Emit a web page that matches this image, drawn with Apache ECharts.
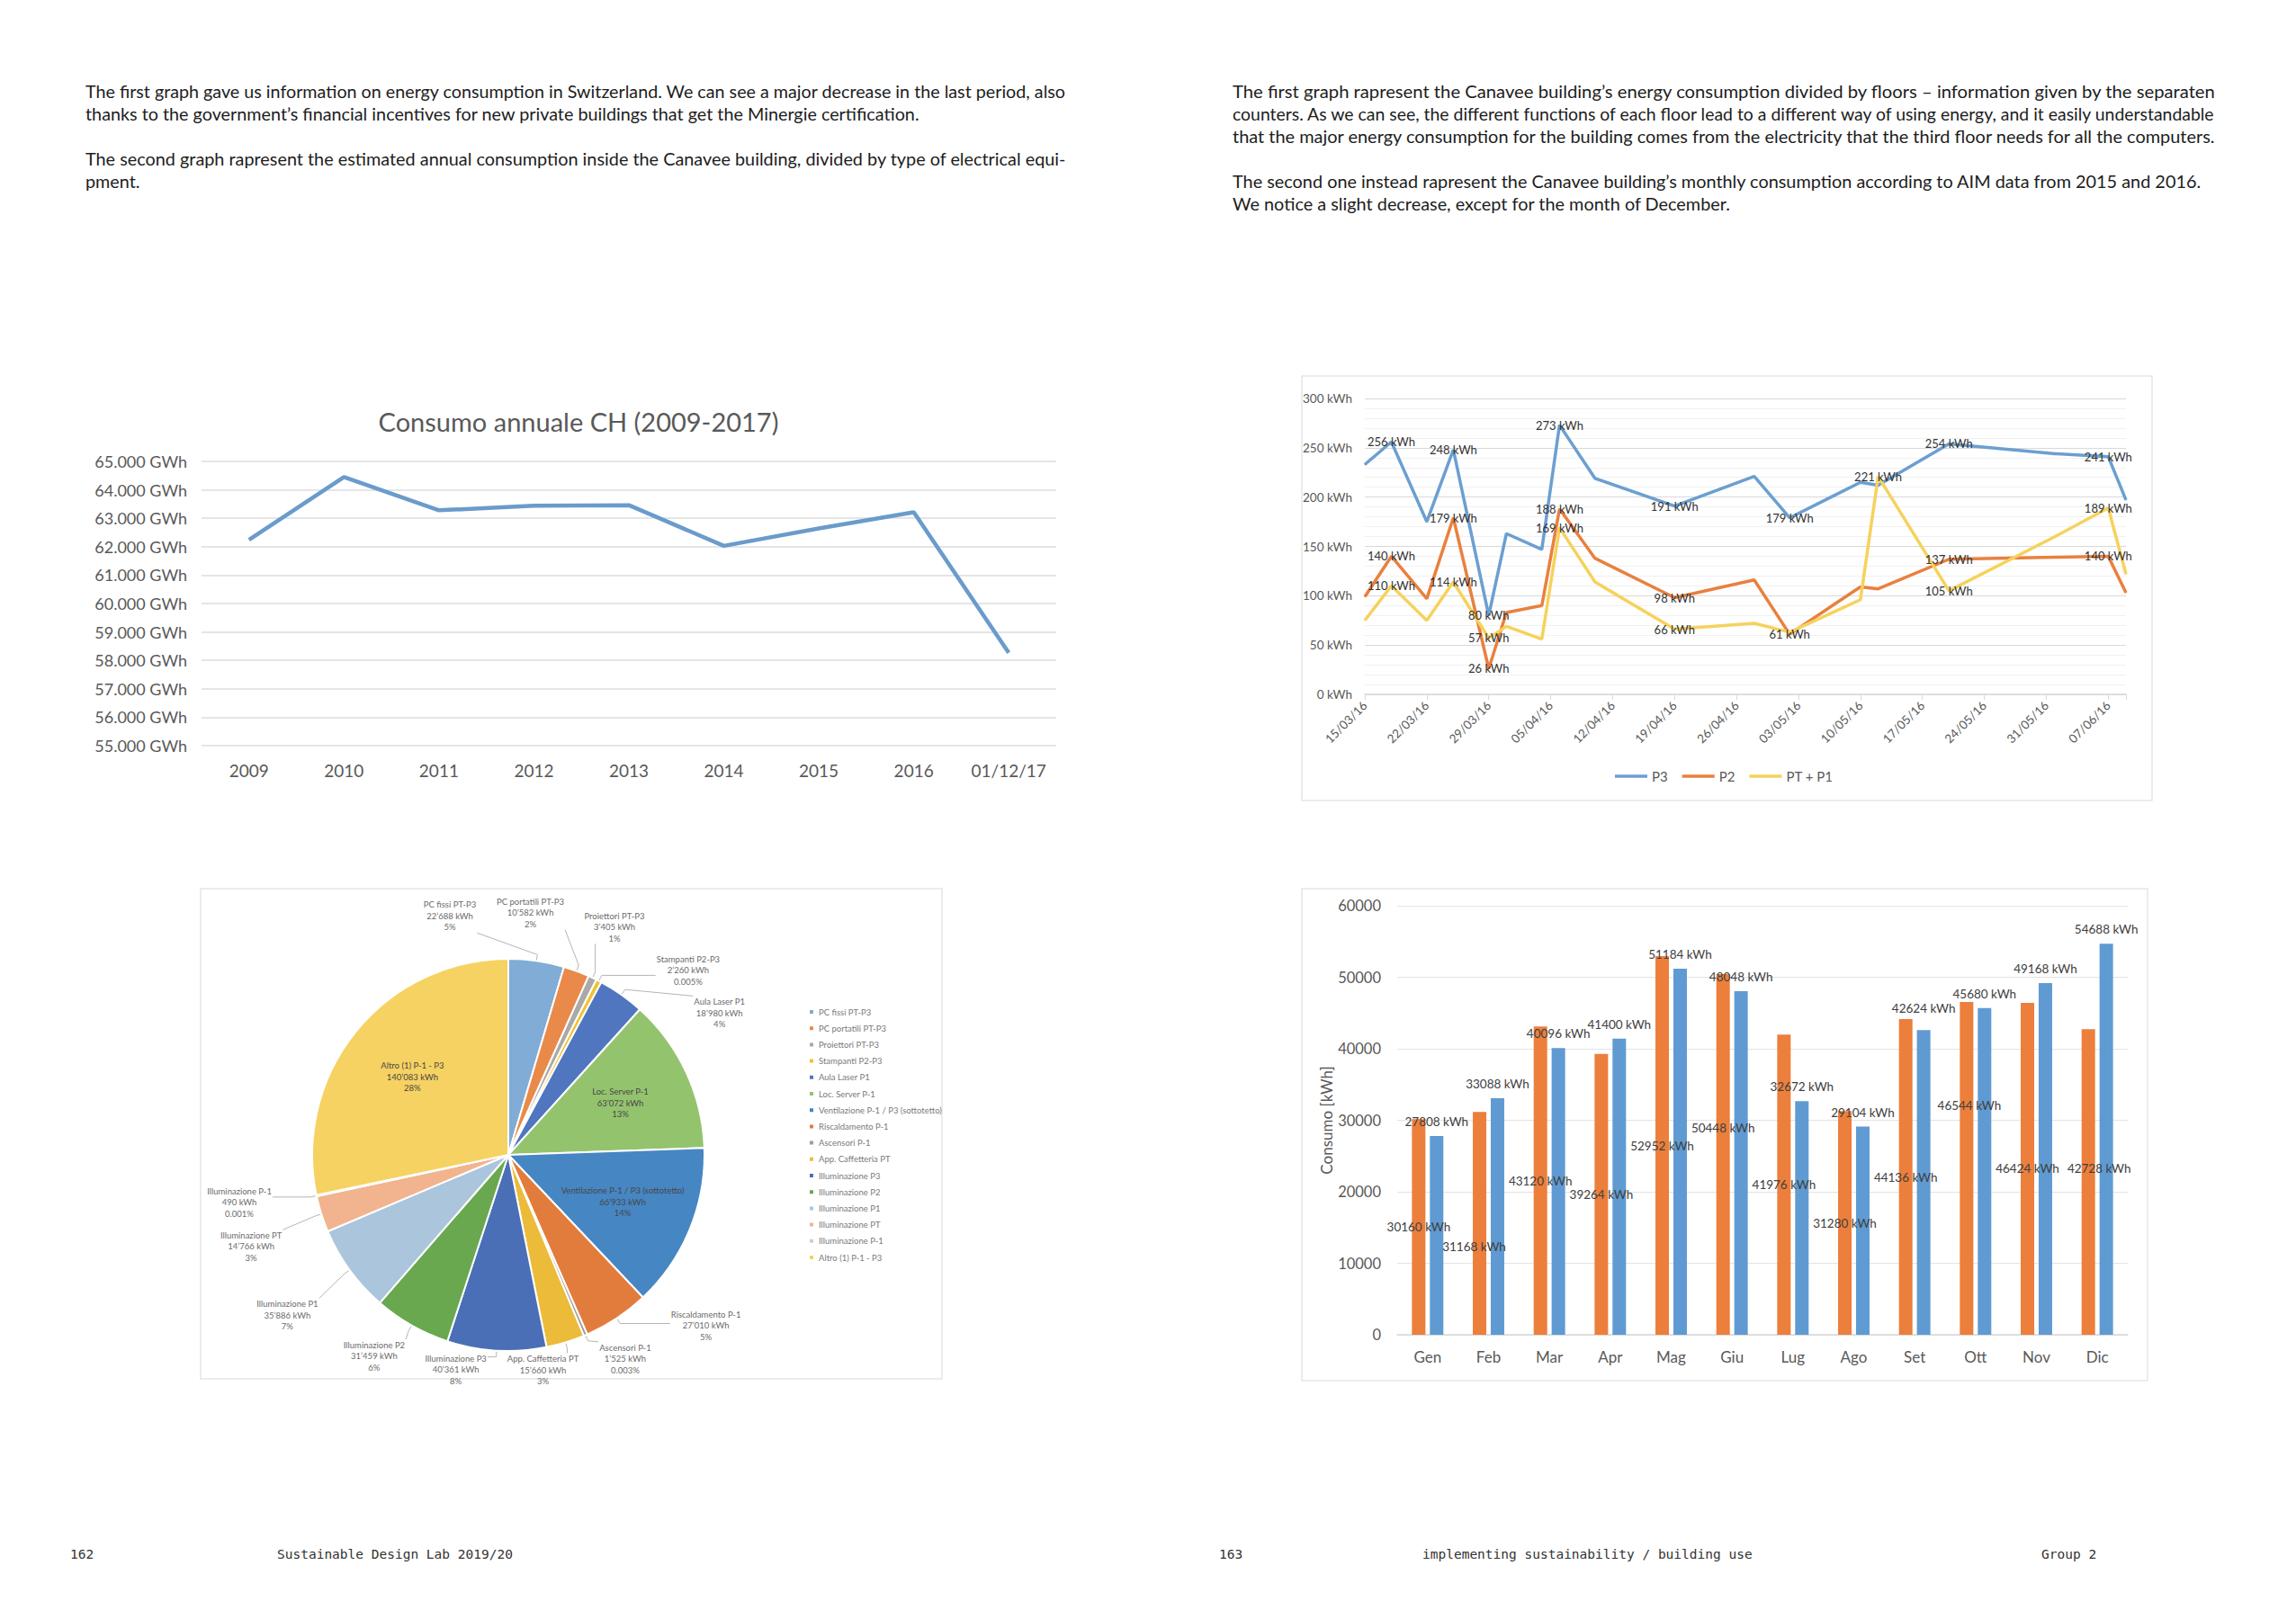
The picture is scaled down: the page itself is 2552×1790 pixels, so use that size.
<!DOCTYPE html>
<html><head><meta charset="utf-8">
<script src="https://cdn.jsdelivr.net/npm/echarts@6/dist/echarts.min.js"></script>
<style>html,body{margin:0;padding:0;background:#fff;}#c{width:2552px;height:1790px;}</style>
</head><body><div id="c"></div>
<script>
// ---------------- DATA ----------------
const chYears = ['2009','2010','2011','2012','2013','2014','2015','2016','01/12/17'];
const chGWh = [62240, 64450, 63280, 63440, 63460, 62030, 62640, 63210, 58270];

const floorDates = ['2016-03-15','2016-03-18','2016-03-22','2016-03-25','2016-03-29','2016-03-31','2016-04-04','2016-04-06','2016-04-10','2016-04-19','2016-04-28','2016-05-02','2016-05-10','2016-05-12','2016-05-20','2016-06-01','2016-06-07','2016-06-09'];
const p3Vals = [233, 256, 175, 248, 80, 163, 147, 273, 219, 191, 221, 179, 215, 212, 254, 244, 241, 197];
const p2Vals = [99, 140, 97, 179, 26, 83, 90, 188, 138, 98, 116, 61, 109, 107, 137, 139, 140, 103];
const p1Vals = [75, 110, 75, 114, 57, 69, 56, 169, 114, 66, 72, 63, 96, 221, 105, 160, 189, 122];
const p3Labeled = [1, 3, 4, 7, 9, 11, 14, 16];
const p2Labeled = [1, 3, 4, 7, 9, 11, 14, 16];
const p1Labeled = [1, 3, 4, 7, 9, 13, 14, 16];

const months = ['Gen','Feb','Mar','Apr','Mag','Giu','Lug','Ago','Set','Ott','Nov','Dic'];
const kwh2015 = [30160, 31168, 43120, 39264, 52952, 50448, 41976, 31280, 44136, 46544, 46424, 42728];
const kwh2016 = [27808, 33088, 40096, 41400, 51184, 48048, 32672, 29104, 42624, 45680, 49168, 54688];

const pieNames = ['PC fissi PT-P3','PC portatili PT-P3','Proiettori PT-P3','Stampanti P2-P3','Aula Laser P1','Loc. Server P-1','Ventilazione P-1 / P3 (sottotetto)','Riscaldamento P-1','Ascensori P-1','App. Caffetteria PT','Illuminazione P3','Illuminazione P2','Illuminazione P1','Illuminazione PT','Illuminazione P-1','Altro (1) P-1 - P3'];
const pieKWh = [22688, 10582, 3405, 2260, 18980, 63072, 66933, 27010, 1525, 15660, 40361, 31459, 35886, 14766, 490, 140083];
const piePct = ['5%','2%','1%','0.005%','4%','13%','14%','5%','0.003%','3%','8%','6%','7%','3%','0.001%','28%'];

const leftLines = [
 'The first graph gave us information on energy consumption in Switzerland. We can see a major decrease in the last period, also',
 'thanks to the government\u2019s financial incentives for new private buildings that get the Minergie certification.',
 '',
 'The second graph rapresent the estimated annual consumption inside the Canavee building, divided by type of electrical equi-',
 'pment.'
];
const rightLines = [
 'The first graph rapresent the Canavee building\u2019s energy consumption divided by floors \u2013 information given by the separaten',
 'counters. As we can see, the different functions of each floor lead to a different way of using energy, and it easily understandable',
 'that the major energy consumption for the building comes from the electricity that the third floor needs for all the computers.',
 '',
 'The second one instead rapresent the Canavee building\u2019s monthly consumption according to AIM data from 2015 and 2016.',
 'We notice a slight decrease, except for the month of December.'
];
const footerTexts = ['162','Sustainable Design Lab 2019/20','163','implementing sustainability / building use','Group 2'];

// ---------------- STYLE ----------------
const pieColors = ['#80acd6','#e98a4a','#a9a9a9','#f1c232','#4f76bf','#94c36e','#4686c3','#e27c3c','#9c9c9c','#ecbb3a','#4a6fb6','#6aa84f','#abc5dc','#f1b48e','#cfcfcf','#f6d262'];
const pieInside = ['Altro (1) P-1 - P3','Loc. Server P-1','Ventilazione P-1 / P3 (sottotetto)'];
const FONT = 'Lato';
const PIE_C = [565, 1284], PIE_R = 218;
// label nudges (pixels) reproducing the hand-moved data labels of the bar chart
const orangeLabelNudge = [[0,0],[-6,26],[0,0],[0,0],[0,0],[0,-29],[0,0],[0,0],[0,0],[3,-70],[0,0],[12,-15]];
const blueLabelNudge = [[0,0],[0,0],[0,0],[0,0],[0,0],[0,0],[0,0],[0,0],[0,-8],[0,0],[0,0],[0,0]];

// ---------------- HELPERS ----------------
const DAY = 86400000, T0 = Date.UTC(2016, 2, 15);
function dayOf(s){ const a = s.split('-').map(Number); return Math.round((Date.UTC(a[0], a[1]-1, a[2]) - T0) / DAY); }
function dmy(d){ const t = new Date(T0 + d*DAY); return String(t.getUTCDate()).padStart(2,'0') + '/' + String(t.getUTCMonth()+1).padStart(2,'0') + '/' + String(t.getUTCFullYear()).slice(2); }
function apos(v){ return String(v).replace(/\B(?=(\d{3})+(?!\d))/g, '\u2019'); }
const mctx = document.createElement('canvas').getContext('2d');
function tw(t, font){ mctx.font = font; return mctx.measureText(t).width; }
function pieLabelText(i){ return pieNames[i] + '\n' + apos(pieKWh[i]) + ' kWh\n' + piePct[i]; }

// Excel-like "best fit" placement of pie labels: start on each slice's mid angle, then spread overlapping ones
const pieLayout = (function(){
  const total = pieKWh.reduce((a,b)=>a+b,0);
  const font = '9.5px ' + FONT, H = 37.5;
  function gapFor(s, c){
    if (c < -0.7) return 30 + (c + 0.7)*107;
    if (s < -0.8) return 46;
    return 30;
  }
  function place(o){
    const s = Math.sin(o.t), c = Math.cos(o.t);
    const R = PIE_R + gapFor(s, c) + Math.abs(s)*o.w/2 + Math.abs(c)*o.h/2;
    o.x = PIE_C[0] + R*s; o.y = PIE_C[1] - R*c;
  }
  let acc = 0; const L = [];
  pieKWh.forEach((v,i)=>{
    const a = (acc + v/2) / total * 2 * Math.PI; acc += v;
    const inside = pieInside.includes(pieNames[i]);
    const w = Math.max.apply(null, pieLabelText(i).split('\n').map(t=>tw(t, font))) + 2;
    const o = {i, mid:a, t:a, w, h:H, inside};
    if (inside){ o.x = PIE_C[0] + PIE_R*0.63*Math.sin(a); o.y = PIE_C[1] - PIE_R*0.63*Math.cos(a); }
    else place(o);
    L.push(o);
  });
  const out = L.filter(o=>!o.inside);
  const padX = 20, padY = 10, step = 0.004;
  function overlap(a,b){ return Math.abs(a.x-b.x) < (a.w+b.w)/2 + padX && Math.abs(a.y-b.y) < (a.h+b.h)/2 + padY; }
  for (let it=0; it<1000; it++){
    let moved = false;
    for (let m=0; m<out.length; m++) for (let n=m+1; n<out.length; n++){
      const a = out[m], b = out[n];
      if (overlap(a,b)){
        const lo = a.t <= b.t ? a : b, hi = lo === a ? b : a;
        lo.t -= step; hi.t += step; place(lo); place(hi); moved = true;
      }
    }
    if (!moved) break;
  }
  return L;
})();
function pieLabelLayout(p){
  const o = pieLayout[p.dataIndex];
  const res = {x:o.x, y:o.y, align:'center', verticalAlign:'middle'};
  if (!o.inside){
    const s = Math.sin(o.mid), c = Math.cos(o.mid);
    const p0 = [PIE_C[0] + PIE_R*s, PIE_C[1] - PIE_R*c];
    const p1 = [PIE_C[0] + (PIE_R+7)*s, PIE_C[1] - (PIE_R+7)*c];
    const p2 = [Math.min(Math.max(p1[0], o.x - o.w/2), o.x + o.w/2), Math.min(Math.max(p1[1], o.y - o.h/2), o.y + o.h/2)];
    res.labelLinePoints = [p0, p1, p2];
  }
  return res;
}

function paragraph(lines, justify, x0, width, y0, lh){
  const font = '18.5px ' + FONT;
  const js = [];
  lines.forEach((l,i)=>{ if (justify[i]) js.push(width / tw(l, font)); });
  const avg = js.reduce((a,b)=>a+b,0) / js.length;
  const out = [];
  lines.forEach((l,i)=>{
    if (!l) return;
    const s = justify[i] ? width / tw(l, font) : avg;
    out.push({type:'text', x:x0, y:y0 + i*lh, scaleX:s, style:{text:l, font:font, fill:'#1d1d1d', verticalAlign:'middle', align:'left'}});
  });
  return out;
}

const graphics = [];
graphics.push(...paragraph(leftLines, [true,false,false,true,false], 95, 1091, 102, 25));
graphics.push(...paragraph(rightLines, [true,true,true,false,false,false], 1370, 1095, 102, 25));
const footX = [78, 308, 1355, 1581, 2269];
footerTexts.forEach((t,i)=>graphics.push({type:'text', x:footX[i], y:1728, style:{text:t, font:'14.5px "DejaVu Sans Mono"', fill:'#333', verticalAlign:'middle'}}));
[[223,988,824,545],[1447,418,945,472],[1447,988,940,547]].forEach(r=>graphics.push({type:'rect', shape:{x:r[0],y:r[1],width:r[2],height:r[3]}, style:{fill:'none', stroke:'#e6e6e6', lineWidth:1.5}, z:-1}));
graphics.push({type:'text', x:643, y:468, style:{text:'Consumo annuale CH (2009-2017)', font:'29px ' + FONT, fill:'#595959', align:'center', verticalAlign:'middle'}});

function floorSeries(name, vals, labeled, color){
  return {
    type:'line', name:name, xAxisIndex:1, yAxisIndex:1, symbol:'circle', symbolSize:1, showSymbol:true,
    lineStyle:{color:color, width:3.5}, itemStyle:{color:color},
    label:{show:false, position:'inside', formatter:p=>p.value[1] + ' kWh', fontFamily:FONT, fontSize:13, color:'#333'},
    data: floorDates.map((s,i)=> labeled.includes(i) ? {value:[dayOf(s), vals[i]], label:{show:true}} : {value:[dayOf(s), vals[i]]})
  };
}
function barData(vals, nudge){ return vals.map((v,i)=> (nudge[i][0] || nudge[i][1]) ? {value:v, label:{offset:nudge[i]}} : v); }

const axisLbl = {fontFamily:FONT, color:'#595959'};
const option = {
  animation:false,
  backgroundColor:'#fff',
  textStyle:{fontFamily:FONT},
  graphic: graphics,
  grid: [
    {left:224, top:513, width:950, height:316},
    {left:1517, top:443, width:846, height:329},
    {left:1553, top:1007, width:812, height:477}
  ],
  xAxis: [
    {type:'category', gridIndex:0, data:chYears, boundaryGap:true, axisLine:{show:false}, axisTick:{show:false},
     axisLabel:Object.assign({fontSize:19, margin:18, interval:0}, axisLbl)},
    {type:'value', gridIndex:1, min:0, max:86, interval:7, splitLine:{show:false},
     axisLine:{show:true, lineStyle:{color:'#d9d9d9', width:1.5}}, axisTick:{show:true, length:6, lineStyle:{color:'#d9d9d9'}},
     axisLabel:Object.assign({fontSize:13.5, rotate:45, margin:10, formatter:v=> (v % 7 === 0 ? dmy(v) : '')}, axisLbl)},
    {type:'category', gridIndex:2, data:months, axisLine:{show:true, lineStyle:{color:'#d9d9d9', width:1.5}}, axisTick:{show:false},
     axisLabel:Object.assign({fontSize:17, margin:16, interval:0}, axisLbl)}
  ],
  yAxis: [
    {type:'value', gridIndex:0, min:55000, max:65000, interval:1000,
     splitLine:{lineStyle:{color:'#dcdcdc', width:1.5}}, axisLine:{show:false}, axisTick:{show:false},
     axisLabel:Object.assign({fontSize:18, margin:16, formatter:v=>Math.floor(v/1000) + '.' + String(v%1000).padStart(3,'0') + ' GWh'}, axisLbl)},
    {type:'value', gridIndex:1, min:0, max:300, interval:50,
     splitLine:{lineStyle:{color:'#d9d9d9', width:1.2}}, minorTick:{show:false, splitNumber:5}, minorSplitLine:{show:true, lineStyle:{color:'#f1f1f1', width:1}},
     axisLine:{show:false}, axisTick:{show:false},
     axisLabel:Object.assign({fontSize:13.5, margin:14, formatter:'{value} kWh'}, axisLbl)},
    {type:'value', gridIndex:2, min:0, max:60000, interval:10000,
     splitLine:{lineStyle:{color:'#e3e3e3', width:1.2}}, axisLine:{show:false}, axisTick:{show:false},
     axisLabel:Object.assign({fontSize:16.5, margin:18, formatter:v=>String(v)}, axisLbl),
     name:'Consumo [kWh]', nameLocation:'middle', nameGap:70, nameRotate:90, nameTextStyle:{fontFamily:FONT, fontSize:17, color:'#595959'}}
  ],
  legend: [
    {data:[{name:'P3',icon:'rect'},{name:'P2',icon:'rect'},{name:'PT + P1',icon:'rect'}], left:1790, top:850, itemWidth:36, itemHeight:3.5, itemGap:16,
     textStyle:{fontFamily:FONT, fontSize:15, color:'#595959', lineHeight:16}, selectedMode:false},
    {data:pieNames, orient:'vertical', left:893, top:1114, icon:'rect', itemWidth:6, itemHeight:6, itemGap:6.2,
     textStyle:{fontFamily:FONT, fontSize:9.5, lineHeight:12, color:'#7a7a7a'}, selectedMode:false}
  ],
  series: [
    {type:'line', name:'CH', xAxisIndex:0, yAxisIndex:0, data:chGWh, symbol:'none', lineStyle:{color:'#6a9bcb', width:4.5}, itemStyle:{color:'#6a9bcb'}},
    floorSeries('P3', p3Vals, p3Labeled, '#6b9fd0'),
    floorSeries('P2', p2Vals, p2Labeled, '#e9803f'),
    floorSeries('PT + P1', p1Vals, p1Labeled, '#f6d25c'),
    {type:'bar', name:'2015', xAxisIndex:2, yAxisIndex:2, data:barData(kwh2015, orangeLabelNudge), barWidth:15, barGap:'33%', itemStyle:{color:'#ec7f3c'},
     label:{show:true, position:'inside', formatter:p=>p.value + ' kWh', fontFamily:FONT, fontSize:13.5, color:'#404040'}},
    {type:'bar', name:'2016', xAxisIndex:2, yAxisIndex:2, data:barData(kwh2016, blueLabelNudge), barWidth:15, barGap:'33%', itemStyle:{color:'#5f9bd2'},
     label:{show:true, position:'top', distance:9, formatter:p=>p.value + ' kWh', fontFamily:FONT, fontSize:13.5, color:'#404040'}},
    {type:'pie', name:'consumo', center:PIE_C, radius:PIE_R, startAngle:90, clockwise:true, avoidLabelOverlap:false,
     itemStyle:{borderColor:'#fff', borderWidth:2},
     label:{show:true, formatter:p=>pieLabelText(p.dataIndex), fontFamily:FONT, fontSize:9.5, lineHeight:12.5, color:'#6b6b6b', align:'center'},
     labelLine:{show:true, length:10, length2:10, lineStyle:{color:'#b5b5b5', width:1}},
     labelLayout: pieLabelLayout,
     data: pieNames.map((n,i)=>{
       const d = {name:n, value:pieKWh[i], itemStyle:{color:pieColors[i]}};
       if (pieInside.includes(n)) d.label = {position:'inside', color:'#474747'};
       return d;
     })}
  ]
};
const chart = echarts.init(document.getElementById('c'), null, {renderer:'svg', width:2552, height:1790});
chart.setOption(option);
</script></body></html>
